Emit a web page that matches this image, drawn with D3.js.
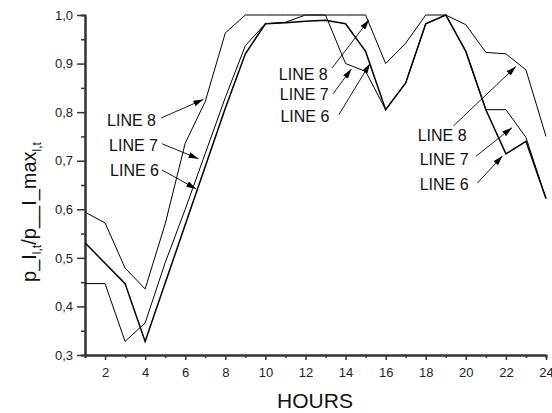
<!DOCTYPE html>
<html>
<head>
<meta charset="utf-8">
<script src="https://cdn.jsdelivr.net/npm/d3@7"></script>
<style>
  html, body { margin: 0; padding: 0; background: #fff; }
  svg { display: block; font-family: "Liberation Sans", Arial, sans-serif; }
</style>
</head>
<body>
<div id="chart"></div>
<script>
// data
var hours = d3.range(1, 25);
var line6 = [0.531, 0.489, 0.447, 0.328, 0.448, 0.568, 0.688, 0.808, 0.920, 0.982, 0.984, 0.987,
             0.989, 0.982, 0.925, 0.805, 0.860, 0.982, 1.000, 0.925, 0.805, 0.714, 0.740, 0.622];
var line7 = [0.447, 0.447, 0.328, 0.366, 0.490, 0.600, 0.715, 0.830, 0.937, 0.982, 0.985, 1.000,
             1.000, 0.900, 0.884, 0.805, 0.860, 0.982, 1.000, 0.925, 0.805, 0.805, 0.748, 0.622];
var line8 = [0.594, 0.572, 0.479, 0.436, 0.570, 0.736, 0.822, 0.963, 1.000, 1.000, 1.000, 1.000,
             1.000, 1.000, 1.000, 0.900, 0.942, 1.000, 1.000, 0.980, 0.923, 0.920, 0.887, 0.750];
var xTicks = d3.range(1, 25);
var yTicks = [0.3, 0.4, 0.5, 0.6, 0.7, 0.8, 0.9, 1.0];

// labels with arrows, in data units: [label, textHour, textValue, fromHour, fromValue, toHour, toValue]
var notes = [
  ["LINE 8", 2.10, 0.772, 4.80, 0.788, 6.90, 0.826],
  ["LINE 7", 2.20, 0.720, 4.84, 0.735, 6.66, 0.704],
  ["LINE 6", 2.25, 0.669, 4.84, 0.681, 6.55, 0.642],
  ["LINE 8", 10.67, 0.867, 13.33, 0.891, 15.17, 0.990],
  ["LINE 7", 10.72, 0.824, 13.38, 0.838, 14.29, 0.889],
  ["LINE 6", 10.75, 0.780, 13.67, 0.795, 15.22, 0.900],
  ["LINE 8", 17.60, 0.740, 19.39, 0.772, 22.50, 0.894],
  ["LINE 7", 17.70, 0.692, 20.50, 0.709, 22.30, 0.768],
  ["LINE 6", 17.70, 0.640, 20.58, 0.654, 21.83, 0.710]
];

var W = 552, H = 413;
var margin = {top: 15, right: 6, bottom: 58, left: 85};

var svg = d3.select("#chart").append("svg")
  .attr("width", W).attr("height", H);

var x = d3.scaleLinear().domain([1, 24]).range([margin.left, W - margin.right]);
var y = d3.scaleLinear().domain([0.3, 1.0]).range([H - margin.bottom, margin.top]);

var comma = function(d) { return d3.format(".1f")(d).replace(".", ","); };

// arrow head
svg.append("defs").append("marker")
  .attr("id", "head")
  .attr("markerUnits", "userSpaceOnUse")
  .attr("viewBox", "0 0 10 6")
  .attr("refX", 10).attr("refY", 3)
  .attr("markerWidth", 10).attr("markerHeight", 6)
  .attr("orient", "auto")
  .append("path").attr("d", "M0,0L10,3L0,6Z").attr("fill", "#000");

// x axis: minor then major ticks
var gx = svg.append("g").attr("transform", "translate(0," + (H - margin.bottom) + ")");
gx.append("g").call(d3.axisBottom(x).tickValues(xTicks.filter(function(d){ return d % 2; }))
    .tickSize(3).tickFormat(""));
gx.append("g").call(d3.axisBottom(x).tickValues(xTicks.filter(function(d){ return d % 2 === 0; }))
    .tickSize(5).tickPadding(8).tickSizeOuter(0));

// y axis
var gy = svg.append("g").attr("transform", "translate(" + margin.left + ",0)");
gy.append("g").call(d3.axisLeft(y).tickValues([0.35, 0.45, 0.55, 0.65, 0.75, 0.85, 0.95])
    .tickSize(4).tickFormat(""));
gy.append("g").call(d3.axisLeft(y).tickValues(yTicks).tickSize(8).tickPadding(4)
    .tickFormat(comma).tickSizeOuter(0));

svg.selectAll(".domain").attr("stroke", "#333").attr("stroke-width", 2);
svg.selectAll(".tick line").attr("stroke", "#333").attr("stroke-width", 1.5);
svg.selectAll(".tick text").attr("font-size", 13).attr("fill", "#222")
  .attr("font-family", "'Liberation Sans', Arial, sans-serif");

// lines
var line = d3.line()
  .x(function(d, i) { return x(hours[i]); })
  .y(function(d) { return y(d); });

[[line8, 1], [line7, 1], [line6, 1.5]].forEach(function(s) {
  svg.append("path").datum(s[0])
    .attr("d", line)
    .attr("fill", "none")
    .attr("stroke", "#000")
    .attr("stroke-width", s[1])
    .attr("stroke-linejoin", "miter");
});

// annotations
notes.forEach(function(n) {
  svg.append("text")
    .attr("x", x(n[1])).attr("y", y(n[2]))
    .attr("font-size", 16).attr("fill", "#111")
    .text(n[0]);
  svg.append("line")
    .attr("x1", x(n[3])).attr("y1", y(n[4]))
    .attr("x2", x(n[5])).attr("y2", y(n[6]))
    .attr("stroke", "#000").attr("stroke-width", 0.9)
    .attr("marker-end", "url(#head)");
});

// axis titles
svg.append("text")
  .attr("x", 315).attr("y", 408)
  .attr("text-anchor", "middle")
  .attr("font-size", 21).attr("fill", "#111")
  .text("HOURS");

var yt = svg.append("text")
  .attr("transform", "rotate(-90)")
  .attr("x", -212).attr("y", 36)
  .attr("text-anchor", "middle")
  .attr("font-size", 20).attr("fill", "#111");
yt.append("tspan").text("p_I");
yt.append("tspan").attr("font-size", 12).attr("dy", 5).text("l,t");
yt.append("tspan").attr("dy", -5).text("/p__I_max");
yt.append("tspan").attr("font-size", 12).attr("dy", 5).text("l,t");
</script>
</body>
</html>
